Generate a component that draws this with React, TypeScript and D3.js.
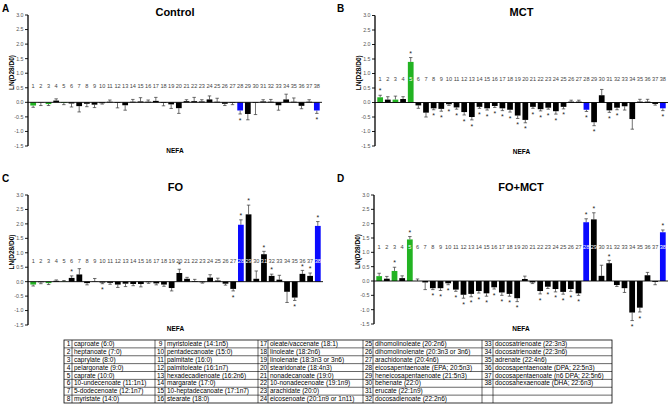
import React from "react";
import * as d3 from "d3";

// ---------- DATA ----------
const categories: string[] = Array.from({ length: 38 }, (_, i) => String(i + 1));
const greenIdx = [1, 3, 5];
const blueIdx = [28, 38];
const yTicks = [-1.5, -1.0, -0.5, 0.0, 0.5, 1.0, 1.5, 2.0, 2.5, 3.0];

const controlMean = [-0.11, -0.01, -0.06, 0.06, -0.02, -0.04, -0.13, -0.05, -0.08, -0.03, 0.02, -0.02, -0.1, 0.02, 0.03, 0.02, 0.05, -0.02, -0.07, -0.2, 0.04, 0.04, 0.03, 0.1, 0.02, -0.05, -0.02, -0.28, -0.4, -0.02, 0.03, 0.02, -0.1, 0.1, 0.02, -0.12, 0.02, -0.28];
const controlErr = [0.06, 0.1, 0.05, 0.06, 0.06, 0.12, 0.2, 0.1, 0.1, 0.03, 0.06, 0.17, 0.17, 0.08, 0.13, 0.06, 0.12, 0.1, 0.14, 0.18, 0.05, 0.13, 0.06, 0.12, 0.12, 0.06, 0.06, 0.12, 0.2, 0.4, 0.06, 0.08, 0.17, 0.18, 0.13, 0.1, 0.07, 0.1];
const controlSig = [28, 38];

const mctMean = [0.18, 0.1, 0.1, 0.12, 1.4, -0.1, -0.35, -0.2, -0.22, -0.06, -0.17, -0.33, -0.5, -0.15, -0.2, -0.12, -0.2, -0.25, -0.45, -0.6, -0.15, -0.23, -0.18, -0.3, -0.15, 0.03, 0.03, -0.25, -0.68, 0.25, -0.27, -0.18, -0.13, -0.57, 0.03, 0.03, -0.05, -0.2];
const mctErr = [0.07, 0.1, 0.12, 0.08, 0.15, 0.1, 0.15, 0.05, 0.08, 0.04, 0.06, 0.1, 0.1, 0.05, 0.06, 0.05, 0.08, 0.08, 0.1, 0.1, 0.05, 0.06, 0.05, 0.1, 0.07, 0.05, 0.05, 0.06, 0.12, 0.2, 0.07, 0.07, 0.13, 0.35, 0.08, 0.08, 0.04, 0.08];
const mctSig = [1, 5, 8, 9, 10, 11, 12, 13, 14, 15, 16, 17, 18, 19, 20, 21, 22, 23, 24, 25, 28, 29, 31, 32, 38];

const foMean = [-0.1, -0.02, -0.05, 0.03, 0.01, 0.13, 0.25, -0.05, 0.01, -0.03, -0.04, -0.1, -0.07, -0.08, -0.08, -0.02, -0.06, -0.1, -0.22, 0.3, 0.1, 0.02, -0.02, 0.14, 0.04, -0.07, -0.25, 1.97, 2.33, 0.1, 0.95, 0.2, 0.07, -0.35, -0.55, 0.27, 0.2, 1.93];
const foErr = [0.05, 0.05, 0.05, 0.03, 0.03, 0.07, 0.2, 0.06, 0.1, 0.04, 0.05, 0.1, 0.1, 0.06, 0.1, 0.04, 0.05, 0.06, 0.1, 0.13, 0.05, 0.06, 0.03, 0.1, 0.08, 0.05, 0.07, 0.17, 0.32, 0.27, 0.1, 0.06, 0.15, 0.37, 0.1, 0.12, 0.1, 0.15];
const foSig = [6, 10, 20, 27, 28, 29, 31, 32, 35, 36, 37, 38];

const fomctMean = [0.17, 0.08, 0.35, 0.1, 1.45, 0.0, -0.05, -0.25, -0.25, -0.08, -0.3, -0.48, -0.45, -0.35, -0.43, -0.22, -0.4, -0.45, -0.6, 0.07, -0.05, -0.35, -0.2, -0.28, -0.38, -0.28, -0.43, 2.05, 2.15, 0.18, 0.62, -0.14, -0.25, -1.1, -0.93, 0.2, -0.03, 1.7];
const fomctErr = [0.1, 0.08, 0.13, 0.08, 0.1, 0.07, 0.25, 0.05, 0.08, 0.05, 0.06, 0.12, 0.1, 0.07, 0.1, 0.06, 0.1, 0.08, 0.12, 0.1, 0.04, 0.1, 0.06, 0.1, 0.08, 0.08, 0.07, 0.12, 0.23, 0.37, 0.1, 0.05, 0.15, 0.28, 0.15, 0.1, 0.1, 0.08];
const fomctSig = [3, 5, 8, 9, 10, 11, 12, 13, 14, 15, 16, 17, 18, 19, 22, 23, 24, 25, 26, 27, 28, 29, 31, 34, 35, 38];

const tableNumbers: number[][] = [
  [1, 2, 3, 4, 5, 6, 7, 8],
  [9, 10, 11, 12, 13, 14, 15, 16],
  [17, 18, 19, 20, 21, 22, 23, 24],
  [25, 26, 27, 28, 29, 30, 31, 32],
  [33, 34, 35, 36, 37, 38],
];
const tableNames: string[][] = [
  ["caproate (6:0)", "heptanoate (7:0)", "caprylate (8:0)", "pelargonate (9:0)", "caprate (10:0)", "10-undecenoate (11:1n1)", "5-dodecenoate (12:1n7)", "myristate (14:0)"],
  ["myristoleate (14:1n5)", "pentadecanoate (15:0)", "palmitate (16:0)", "palmitoleate (16:1n7)", "hexadecadienoate (16:2n6)", "margarate (17:0)", "10-heptadecanoate (17:1n7)", "stearate (18:0)"],
  ["oleate/vaccenate (18:1)", "linoleate (18:2n6)", "linolenate (18:3n3 or 3n6)", "stearidonate (18:4n3)", "nonadecanoate (19:0)", "10-nonadecenoate (19:1n9)", "arachidate (20:0)", "eicosenoate (20:1n9 or 1n11)"],
  ["dihomolinoleate (20:2n6)", "dihomolinolenate (20:3n3 or 3n6)", "arachidonate (20:4n6)", "eicosapentaenoate (EPA; 20:5n3)", "heneicosapentaenoate (21:5n3)", "behenate (22:0)", "erucate (22:1n9)", "docosadienoate (22:2n6)"],
  ["docosatrienoate (22:3n3)", "docosatrienoate (22:3n6)", "adrenate (22:4n6)", "docosapentaenoate (DPA; 22:5n3)", "docosapentaenoate (n6 DPA; 22:5n6)", "docosahexaenoate (DHA; 22:6n3)"],
];

// ---------- LAYOUT ----------
const FONT = "Arial, 'Liberation Sans', Helvetica, sans-serif";
const GREEN = "#22b322";
const BLUE = "#0a0aff";

type PanelCfg = {
  letter: string; title: string; mean: number[]; err: number[]; sig: number[];
  left: number; right: number; top: number; bottom: number; labelVal: number;
  letterX: number; letterY: number; titleY: number; nefaY: number;
};

const panels: PanelCfg[] = [
  { letter: "A", title: "Control", mean: controlMean, err: controlErr, sig: controlSig, left: 28, right: 322, top: 15, bottom: 146, labelVal: 0.55, letterX: 2, letterY: 12, titleY: 16, nefaY: 153 },
  { letter: "B", title: "MCT", mean: mctMean, err: mctErr, sig: mctSig, left: 375, right: 668, top: 15.5, bottom: 146, labelVal: 0.8, letterX: 337, letterY: 12, titleY: 16, nefaY: 154 },
  { letter: "C", title: "FO", mean: foMean, err: foErr, sig: foSig, left: 28, right: 323, top: 195, bottom: 325, labelVal: 0.73, letterX: 2, letterY: 182, titleY: 191, nefaY: 331 },
  { letter: "D", title: "FO+MCT", mean: fomctMean, err: fomctErr, sig: fomctSig, left: 374, right: 668, top: 195, bottom: 324, labelVal: 1.18, letterX: 337, letterY: 182, titleY: 191, nefaY: 331 },
];

function barColor(cat: number) {
  if (greenIdx.includes(cat)) return GREEN;
  if (blueIdx.includes(cat)) return BLUE;
  return "#000";
}

function Panel({ p }: { p: PanelCfg }) {
  const y = d3.scaleLinear().domain([-1.5, 3]).range([p.bottom, p.top]);
  const x = d3.scaleBand<string>().domain(categories).range([p.left, p.right]).paddingInner(0.25).paddingOuter(0.3);
  const bw = x.bandwidth();
  const y0 = y(0);
  const cx = (p.left + p.right) / 2;
  return (
    <g>
      <text x={p.letterX} y={p.letterY} fontSize={10} fontWeight="bold" fontFamily={FONT}>{p.letter}</text>
      <text x={cx} y={p.titleY} fontSize={11} fontWeight="bold" fontFamily={FONT} textAnchor="middle">{p.title}</text>
      {categories.map((c, i) => {
        const v = p.mean[i];
        const e = p.err[i];
        const xc = (x(c) as number) + bw / 2;
        const cat = i + 1;
        const yTop = Math.min(y(v), y0);
        const h = Math.abs(y(v) - y0);
        const endV = v >= 0 ? v + e : v - e;
        const yEnd = y(endV);
        const col = barColor(cat);
        return (
          <g key={c}>
            <line x1={xc} x2={xc} y1={y(v)} y2={yEnd} stroke="#333" strokeWidth={0.7} />
            <line x1={xc - bw * 0.3} x2={xc + bw * 0.3} y1={yEnd} y2={yEnd} stroke="#333" strokeWidth={0.7} />
            <rect x={x(c)} y={yTop} width={bw} height={Math.max(h, 0.01)} fill={col} />
          </g>
        );
      })}
      {categories.map((c, i) => {
        const xc = (x(c) as number) + bw / 2;
        const covered = p.mean[i] > p.labelVal + 0.05;
        return (
          <text key={"l" + c} x={xc} y={y(p.labelVal) + 2} fontSize={5.6} fontFamily={FONT} textAnchor="middle" fill={covered ? "#fff" : "#444"}>{c}</text>
        );
      })}
      {p.sig.map((cat) => {
        const i = cat - 1;
        const c = categories[i];
        const xc = (x(c) as number) + bw / 2;
        const v = p.mean[i];
        const e = p.err[i];
        const yEnd = v >= 0 ? y(v + e) - 1.8 : y(v - e) + 8.6;
        return (
          <text key={"s" + cat} x={xc} y={yEnd} fontSize={7} fontFamily={FONT} textAnchor="middle" fill="#222">*</text>
        );
      })}
      <line x1={p.left} x2={p.right} y1={y0} y2={y0} stroke="#000" strokeWidth={0.9} />
      <line x1={p.left} x2={p.left} y1={p.top} y2={p.bottom} stroke="#000" strokeWidth={1.3} />
      {yTicks.map((t) => (
        <g key={"t" + t}>
          <line x1={p.left - 3} x2={p.left} y1={y(t)} y2={y(t)} stroke="#000" strokeWidth={0.9} />
          <text x={p.left - 4.5} y={y(t) + 1.9} fontSize={5.3} fontFamily={FONT} textAnchor="end" fill="#555">{t.toFixed(1)}</text>
        </g>
      ))}
      <text transform={`translate(${p.left - 14},${(p.top + p.bottom) / 2 - 8}) rotate(-90)`} fontSize={6.5} fontWeight="bold" fontFamily={FONT} textAnchor="middle">LN(D28/D0)</text>
      <text x={cx} y={p.nefaY} fontSize={6.5} fontWeight="bold" fontFamily={FONT} textAnchor="middle">NEFA</text>
    </g>
  );
}

const colEdges = [64, 72, 155, 165, 258, 268, 363, 373, 482, 493, 612];
const tableTop = 340;
const tableBottom = 403;

function Table() {
  const rowY = d3.scaleLinear().domain([0, 8]).range([tableTop, tableBottom]);
  const rows = d3.range(9);
  return (
    <g fontFamily={FONT} fontSize={6.5} fill="#000">
      <rect x={colEdges[0]} y={tableTop} width={colEdges[10] - colEdges[0]} height={tableBottom - tableTop} fill="#fff" stroke="#000" strokeWidth={0.8} />
      {rows.slice(1, 8).map((r) => (
        <line key={"r" + r} x1={colEdges[0]} x2={colEdges[10]} y1={rowY(r)} y2={rowY(r)} stroke="#000" strokeWidth={0.6} />
      ))}
      {colEdges.slice(1, 10).map((cxe, k) => (
        <line key={"c" + k} x1={cxe} x2={cxe} y1={tableTop} y2={tableBottom} stroke="#000" strokeWidth={0.6} />
      ))}
      {tableNumbers.map((col, ci) =>
        col.map((n, ri) => (
          <g key={n}>
            <text x={(colEdges[ci * 2] + colEdges[ci * 2 + 1]) / 2 + 0.5} y={rowY(ri) + 6.1} textAnchor="middle">{n}</text>
            <text x={colEdges[ci * 2 + 1] + 2} y={rowY(ri) + 6.1}>{tableNames[ci][ri]}</text>
          </g>
        ))
      )}
    </g>
  );
}

export default function App() {
  return (
    <svg width={669} height={405} style={{ position: "absolute", left: 0, top: 0, background: "#fff" }}>
      <rect width={669} height={405} fill="#fff" />
      {panels.map((p) => (
        <Panel key={p.letter} p={p} />
      ))}
      <Table />
    </svg>
  );
}
